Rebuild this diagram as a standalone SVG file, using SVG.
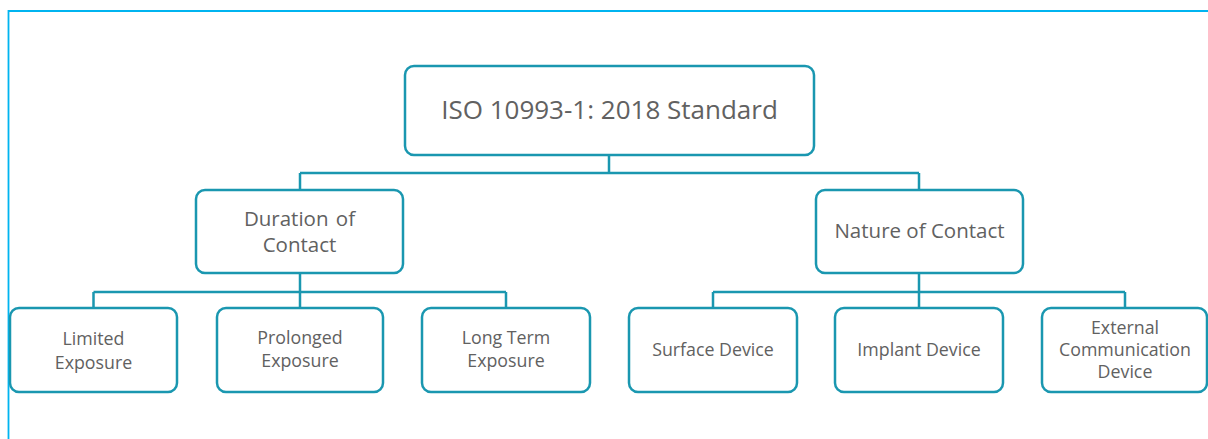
<svg xmlns="http://www.w3.org/2000/svg" width="1208" height="439" viewBox="0 0 1208 439">
<style>
.box{fill:#fff;stroke:#1a97b0;stroke-width:2.5}
.con{fill:none;stroke:#1a97b0;stroke-width:2.5}
text{font-family:"Open Sans","Noto Sans",sans-serif;fill:#616161;text-anchor:middle}
.t1{font-size:26px}
.t2{font-size:20.5px}
.t3{font-size:17.8px}
</style>
<rect width="1208" height="439" fill="#fff"/>
<path d="M8.5,439 V11 H1208" fill="none" stroke="#00b4f0" stroke-width="1.8"/>
<g id="connectors">
<path class="con" d="M609,155 V173 M300,173 H919 M300,173 V190 M919,173 V190"/>
<path class="con" d="M300,273 V292 M93.5,292 H506 M93.5,292 V308 M300,292 V308 M506,292 V308"/>
<path class="con" d="M919,273 V292 M713,292 H1125 M713,292 V308 M919,292 V308 M1125,292 V308"/>
</g>
<g id="root"><rect class="box" x="405" y="66" width="409" height="89" rx="9"/><text class="t1" x="609.5" y="119">ISO 10993-1: 2018 Standard</text></g>
<g id="duration"><rect class="box" x="196" y="190" width="207" height="83" rx="9"/><text class="t2" x="299.5" y="225.5">Duration <tspan dx="2">of</tspan></text><text class="t2" x="299.5" y="252">Contact</text></g>
<g id="nature"><rect class="box" x="816" y="190" width="207" height="83" rx="9"/><text class="t2" x="919.5" y="238">Nature of Contact</text></g>
<g id="limited"><rect class="box" x="10" y="308" width="167" height="84" rx="9"/><text class="t3" x="93.5" y="345">Limited</text><text class="t3" x="93.5" y="369">Exposure</text></g>
<g id="prolonged"><rect class="box" x="217" y="308" width="166" height="84" rx="9"/><text class="t3" x="300" y="344">Prolonged</text><text class="t3" x="300" y="367">Exposure</text></g>
<g id="longterm"><rect class="box" x="422" y="308" width="168" height="84" rx="9"/><text class="t3" x="506" y="344">Long Term</text><text class="t3" x="506" y="367">Exposure</text></g>
<g id="surface"><rect class="box" x="629" y="308" width="168" height="84" rx="9"/><text class="t3" x="713" y="356">Surface Device</text></g>
<g id="implant"><rect class="box" x="835" y="308" width="168" height="84" rx="9"/><text class="t3" x="919" y="356">Implant Device</text></g>
<g id="external"><rect class="box" x="1042" y="308" width="165" height="84" rx="9"/><text class="t3" x="1125" y="334">External</text><text class="t3" x="1125" y="356">Communication</text><text class="t3" x="1125" y="378">Device</text></g>
</svg>
